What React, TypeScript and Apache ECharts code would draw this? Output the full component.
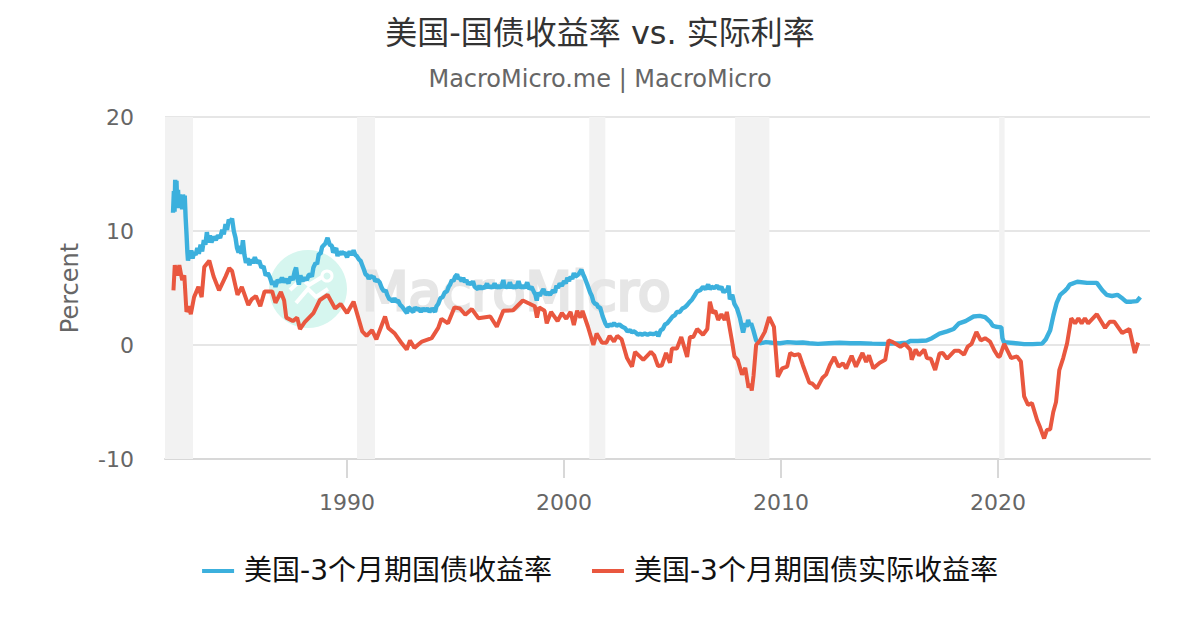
import React, { useEffect, useRef } from "react";
import * as echarts from "echarts";

const titleText = "美国-国债收益率 vs. 实际利率";
const subtitleText = "MacroMicro.me | MacroMicro";
const blueName = "美国-3个月期国债收益率";
const redName = "美国-3个月期国债实际收益率";
const xTicks = [1990, 2000, 2010, 2020];
const recessions = [[1981.61, 1982.9], [1990.46, 1991.29], [2001.16, 2001.9], [2007.88, 2009.46], [2020.05, 2020.3]];

const blueEarly = [
  [1981.98, 11.6], [1982.02, 13.5], [1982.05, 11.7], [1982.08, 14.5], [1982.11, 12.1], [1982.14, 14.4], [1982.17, 12.3], [1982.21, 13.6], [1982.25, 12.0], [1982.29, 13.2], [1982.33, 12.2], [1982.37, 12.9], [1982.4, 11.9], [1982.44, 13.2], [1982.48, 12.2], [1982.52, 13.1], [1982.56, 11.2], [1982.6, 9.8], [1982.64, 8.2], [1982.67, 7.4], [1982.72, 8.0], [1982.76, 7.7], [1982.82, 8.3], [1982.88, 7.6], [1982.95, 8.1], [1983.02, 7.9], [1983.1, 8.5], [1983.17, 8.0], [1983.25, 8.8], [1983.32, 8.2], [1983.4, 9.2], [1983.47, 8.8], [1983.54, 9.9], [1983.6, 9.0], [1983.68, 9.6], [1983.75, 9.0], [1983.85, 9.5], [1983.95, 9.2], [1984.05, 9.6], [1984.15, 9.4], [1984.25, 10.1], [1984.32, 9.7], [1984.4, 10.6], [1984.47, 10.1], [1984.55, 11.0], [1984.62, 10.8], [1984.7, 11.1], [1984.78, 10.0], [1984.86, 9.4], [1984.93, 8.5], [1985.0, 8.1], [1985.06, 8.7], [1985.13, 8.0], [1985.2, 9.2], [1985.27, 7.9], [1985.34, 7.2], [1985.42, 7.6], [1985.5, 7.0], [1985.58, 7.5], [1985.66, 7.2], [1985.75, 7.7], [1985.85, 7.2], [1985.95, 7.4], [1986.05, 6.8], [1986.15, 6.9], [1986.25, 6.1], [1986.35, 6.3], [1986.45, 5.9], [1986.55, 5.3], [1986.62, 5.6], [1986.7, 5.1], [1986.8, 5.7], [1986.9, 5.5], [1987.0, 5.9], [1987.1, 5.5], [1987.2, 5.8], [1987.3, 5.4], [1987.4, 6.0], [1987.5, 5.7], [1987.58, 6.4], [1987.65, 6.8], [1987.72, 5.8], [1987.78, 5.3], [1987.85, 6.1], [1987.95, 5.6], [1988.05, 5.9], [1988.15, 5.7], [1988.22, 6.1], [1988.3, 6.2], [1988.38, 6.0], [1988.45, 6.8], [1988.55, 7.2], [1988.62, 7.1], [1988.7, 8.0], [1988.78, 8.0], [1988.85, 8.6], [1989.0, 8.9], [1989.1, 9.4], [1989.2, 8.8], [1989.3, 8.7], [1989.36, 8.1], [1989.42, 8.3], [1989.5, 8.5], [1989.56, 7.8], [1989.62, 8.2], [1989.7, 7.9], [1989.75, 8.2], [1989.82, 8.0], [1989.9, 8.1], [1990.0, 7.7], [1990.06, 8.0], [1990.12, 8.2], [1990.22, 7.9], [1990.3, 8.3], [1990.38, 7.9], [1990.45, 7.8], [1990.55, 7.5], [1990.62, 7.4], [1990.7, 7.0], [1990.78, 6.6], [1990.85, 6.2], [1990.93, 6.1], [1991.0, 5.8], [1991.08, 6.1], [1991.15, 5.9], [1991.22, 6.0], [1991.3, 5.6], [1991.4, 5.7], [1991.5, 5.5],
];
const blueMid = [
  [1991.6, 5.0], [1991.7, 4.7], [1991.78, 4.8], [1991.85, 4.4], [1991.95, 4.0], [1992.03, 4.0], [1992.1, 3.8], [1992.18, 4.1], [1992.25, 3.8], [1992.35, 3.9], [1992.45, 3.5], [1992.52, 3.4], [1992.6, 3.2], [1992.68, 3.0], [1992.76, 2.8], [1992.83, 3.3], [1992.9, 3.2], [1992.98, 3.0], [1993.05, 2.9], [1993.12, 3.3], [1993.2, 3.1], [1993.3, 3.2], [1993.4, 2.9], [1993.5, 3.2], [1993.6, 3.0], [1993.7, 3.2], [1993.8, 2.9], [1993.92, 3.2], [1994.05, 2.9], [1994.12, 3.4], [1994.2, 3.6], [1994.3, 4.1], [1994.4, 4.2], [1994.5, 4.6], [1994.6, 4.7], [1994.68, 5.1], [1994.75, 5.3], [1994.83, 5.7], [1994.9, 5.6], [1994.98, 6.0], [1995.07, 6.2], [1995.13, 5.8], [1995.2, 5.9], [1995.28, 5.6], [1995.35, 5.9], [1995.43, 5.5], [1995.5, 5.7], [1995.58, 5.3], [1995.65, 5.5], [1995.73, 5.3], [1995.8, 5.6], [1995.88, 5.1], [1995.95, 5.0], [1996.03, 4.9], [1996.1, 5.2], [1996.18, 4.9], [1996.25, 5.1], [1996.35, 5.0], [1996.45, 5.4], [1996.53, 5.0], [1996.6, 5.2], [1996.7, 5.0], [1996.8, 5.4], [1996.9, 5.0], [1997.0, 5.2], [1997.1, 5.0], [1997.2, 5.7], [1997.27, 5.0], [1997.35, 5.2], [1997.42, 5.0], [1997.5, 5.5], [1997.6, 5.0], [1997.7, 5.2], [1997.8, 5.0], [1997.9, 5.6], [1998.0, 5.0], [1998.1, 5.2], [1998.2, 5.0], [1998.3, 5.5], [1998.4, 4.9], [1998.5, 5.1], [1998.6, 4.7], [1998.68, 4.4], [1998.74, 3.9], [1998.8, 4.6], [1998.88, 4.3], [1998.95, 4.6], [1999.05, 4.9], [1999.15, 4.4], [1999.25, 4.6], [1999.35, 4.4], [1999.5, 4.8], [1999.58, 4.6], [1999.65, 5.2], [1999.72, 5.0], [1999.8, 5.4], [1999.9, 5.2], [2000.0, 5.6], [2000.08, 5.4], [2000.15, 5.9], [2000.23, 5.6], [2000.3, 6.0], [2000.38, 5.8], [2000.45, 6.3], [2000.52, 6.0], [2000.6, 6.1], [2000.7, 6.3], [2000.8, 6.6], [2000.88, 6.2], [2000.95, 5.9], [2001.07, 5.3], [2001.2, 4.6], [2001.28, 4.3], [2001.35, 3.8], [2001.43, 3.6], [2001.5, 3.6], [2001.58, 3.3], [2001.66, 3.3], [2001.78, 2.5], [2001.9, 1.9], [2002.0, 1.6], [2002.1, 1.8], [2002.2, 1.7], [2002.3, 1.9], [2002.42, 1.7], [2002.55, 1.8], [2002.68, 1.6], [2002.8, 1.5], [2002.92, 1.2], [2003.04, 1.3], [2003.12, 1.1], [2003.2, 1.2], [2003.3, 1.1], [2003.4, 0.9], [2003.5, 1.0], [2003.6, 0.9], [2003.72, 1.0], [2003.85, 0.9], [2003.97, 1.0], [2004.1, 0.95], [2004.2, 1.0], [2004.29, 1.1], [2004.34, 0.75], [2004.45, 1.3], [2004.55, 1.4], [2004.65, 1.8], [2004.75, 1.9], [2004.88, 2.2], [2005.0, 2.5], [2005.1, 2.6], [2005.2, 2.9], [2005.33, 2.9], [2005.45, 3.2], [2005.56, 3.3], [2005.67, 3.5], [2005.8, 3.8], [2005.9, 4.0], [2006.0, 4.3], [2006.13, 4.7], [2006.27, 4.8], [2006.4, 5.1], [2006.52, 4.9], [2006.64, 5.3], [2006.72, 4.9], [2006.8, 5.1], [2006.92, 5.0], [2007.05, 5.2], [2007.15, 4.9], [2007.25, 5.1], [2007.35, 4.6], [2007.42, 4.8], [2007.5, 4.7], [2007.58, 5.2], [2007.64, 4.0], [2007.75, 4.4], [2007.85, 3.6], [2007.97, 3.2], [2008.1, 2.4], [2008.25, 1.1], [2008.35, 1.9], [2008.42, 1.6], [2008.48, 2.2], [2008.55, 1.7], [2008.62, 1.9], [2008.72, 1.3], [2008.85, 0.4], [2009.03, 0.15], [2009.3, 0.25], [2009.6, 0.2], [2009.95, 0.15], [2010.3, 0.25], [2010.7, 0.2], [2011.0, 0.22], [2011.3, 0.15], [2011.7, 0.1], [2012.2, 0.15], [2012.7, 0.2], [2013.2, 0.15], [2013.65, 0.15], [2014.2, 0.12], [2014.7, 0.1], [2015.1, 0.12], [2015.5, 0.15],
];
const blueLate = [
  [2015.8, 0.2], [2015.95, 0.35], [2016.3, 0.35], [2016.7, 0.4], [2016.95, 0.6], [2017.3, 1.0], [2017.65, 1.2], [2017.95, 1.4], [2018.2, 1.9], [2018.5, 2.1], [2018.87, 2.5], [2019.15, 2.55], [2019.4, 2.45], [2019.65, 2.0], [2019.75, 1.7], [2019.9, 1.6], [2020.15, 1.55], [2020.2, 0.6], [2020.27, 0.25], [2020.7, 0.18], [2021.2, 0.08], [2021.6, 0.08], [2022.03, 0.12], [2022.2, 0.5], [2022.4, 1.3], [2022.55, 2.6], [2022.7, 3.7], [2022.86, 4.4], [2023.05, 4.7], [2023.2, 5.0], [2023.3, 5.3], [2023.65, 5.55], [2024.1, 5.45], [2024.55, 5.45], [2024.8, 4.8], [2025.0, 4.4], [2025.25, 4.3], [2025.5, 4.4], [2025.75, 4.05], [2025.9, 3.8], [2026.15, 3.8], [2026.4, 3.85], [2026.55, 4.2],
];
const redEarly = [
  [1982.0, 4.8], [1982.06, 7.0], [1982.18, 6.1], [1982.27, 7.0], [1982.4, 5.7], [1982.5, 6.1], [1982.6, 2.9], [1982.7, 3.4], [1982.8, 2.7], [1982.95, 4.2], [1983.15, 5.1], [1983.3, 4.2], [1983.42, 6.85], [1983.65, 7.4], [1983.85, 6.0], [1984.1, 4.8], [1984.4, 6.0], [1984.57, 6.75], [1984.7, 6.5], [1984.95, 4.4], [1985.15, 5.1], [1985.45, 3.5], [1985.6, 4.0], [1985.8, 4.3], [1986.0, 3.4], [1986.2, 4.7], [1986.55, 4.7], [1986.7, 3.7], [1986.95, 4.65], [1987.1, 3.9], [1987.2, 2.4], [1987.5, 2.1], [1987.7, 2.4], [1987.83, 1.4], [1988.05, 2.0], [1988.45, 2.8], [1988.75, 3.95], [1989.1, 4.4], [1989.45, 3.2], [1989.7, 3.6], [1990.0, 2.8], [1990.3, 3.8], [1990.7, 1.2], [1990.9, 0.8], [1991.15, 1.3], [1991.35, 0.5], [1991.75, 2.5], [1991.9, 1.5], [1992.2, 1.0], [1992.5, 0.2], [1992.75, -0.4], [1992.9, 0.4], [1993.1, -0.25], [1993.45, 0.3], [1993.9, 0.6], [1994.2, 1.5], [1994.35, 2.3], [1994.65, 1.9], [1994.95, 3.3], [1995.2, 3.2], [1995.45, 2.65], [1995.75, 3.15], [1996.05, 2.35], [1996.6, 2.5], [1996.9, 1.6], [1997.2, 3.0], [1997.65, 3.05], [1998.1, 3.9], [1998.65, 3.4], [1998.75, 2.4], [1998.85, 3.3], [1999.1, 3.0], [1999.2, 1.9], [1999.4, 2.9], [1999.7, 2.1], [1999.9, 2.8], [2000.1, 2.3], [2000.3, 2.9], [2000.45, 1.75], [2000.6, 3.0], [2000.75, 2.4], [2000.85, 3.0], [2001.1, 1.6], [2001.35, 0.0], [2001.5, 1.0], [2001.75, 0.2], [2001.95, 0.2], [2002.1, 0.8], [2002.3, 0.3], [2002.45, 0.8], [2002.65, 0.5],
];
const redMid = [
  [2002.9, -1.15], [2003.13, -1.9], [2003.27, -0.6], [2003.65, -1.3], [2003.85, -0.9], [2004.0, -0.6], [2004.15, -0.9], [2004.33, -1.85], [2004.5, -1.8], [2004.7, -0.7], [2004.88, -1.55], [2004.97, -0.3], [2005.2, -0.3], [2005.4, 0.7], [2005.67, -1.05], [2005.8, 0.7], [2005.95, 0.7], [2006.13, 1.4], [2006.4, 0.9], [2006.6, 1.4], [2006.72, 3.8], [2006.85, 2.8], [2006.97, 3.0], [2007.1, 2.2], [2007.25, 2.7], [2007.4, 2.2], [2007.5, 2.9], [2007.75, 0.2], [2007.85, -1.0], [2008.0, -1.3], [2008.2, -2.6], [2008.35, -2.0], [2008.5, -3.75], [2008.58, -3.4], [2008.65, -4.0], [2008.73, -2.7], [2008.85, 0.0], [2009.03, 0.4], [2009.25, 1.15], [2009.45, 2.45], [2009.67, 1.6], [2009.85, -2.8], [2010.05, -2.05], [2010.28, -1.9], [2010.42, -0.7], [2010.6, -0.9], [2010.83, -0.8], [2011.0, -1.75], [2011.3, -3.3], [2011.45, -3.4], [2011.65, -3.8], [2011.9, -2.9], [2012.07, -2.6], [2012.25, -1.75], [2012.45, -1.05], [2012.65, -1.9], [2012.85, -1.6], [2013.0, -2.05], [2013.25, -0.95], [2013.45, -1.9], [2013.75, -0.7], [2013.92, -1.5],
];
const redLate = [
  [2014.05, -0.9], [2014.25, -2.05], [2014.55, -1.55], [2014.8, -1.3], [2014.95, 0.4], [2015.15, 0.25], [2015.5, -0.15], [2015.7, 0.1], [2015.95, -0.4], [2016.02, -1.3], [2016.2, -0.4], [2016.35, -0.9], [2016.6, -0.4], [2016.72, -1.15], [2016.9, -1.2], [2017.1, -2.2], [2017.3, -0.75], [2017.45, -0.7], [2017.65, -1.2], [2018.0, -0.5], [2018.2, -0.5], [2018.43, -0.85], [2018.6, -0.15], [2018.78, 0.1], [2019.0, 1.15], [2019.2, 0.4], [2019.4, 0.6], [2019.63, 0.3], [2019.85, -0.55], [2020.0, -1.0], [2020.08, -1.0], [2020.28, 0.1], [2020.6, -1.15], [2020.87, -1.0], [2021.05, -1.45], [2021.2, -4.5], [2021.38, -5.25], [2021.56, -5.1], [2021.8, -6.6], [2021.93, -7.2], [2022.12, -8.2], [2022.25, -7.45], [2022.4, -7.4], [2022.54, -5.9], [2022.67, -5.0], [2022.82, -2.2], [2023.0, -1.15], [2023.18, 0.15], [2023.37, 2.35], [2023.55, 1.9], [2023.7, 2.35], [2023.85, 1.9], [2024.0, 2.35], [2024.15, 1.9], [2024.55, 2.7], [2024.93, 1.5], [2025.15, 2.05], [2025.35, 2.05], [2025.72, 1.05], [2026.05, 1.4], [2026.3, -0.7], [2026.45, 0.2],
];

const blueValues = [...blueEarly, ...blueMid, ...blueLate];
const redValues = [...redEarly, ...redMid, ...redLate];

const FONT = '"DejaVu Sans", "Noto Sans CJK SC", sans-serif';

export default function App() {
  const ref = useRef<HTMLDivElement>(null);
  useEffect(() => {
    const chart = echarts.init(ref.current!, undefined, { renderer: "svg" });
    chart.setOption({
      animation: false,
      backgroundColor: "#ffffff",
      textStyle: { fontFamily: FONT },
      title: {
        text: titleText,
        subtext: subtitleText,
        left: "center",
        top: 12,
        itemGap: 18,
        textStyle: { fontSize: 32, fontWeight: "normal", color: "#333333", fontFamily: FONT },
        subtextStyle: { fontSize: 24, color: "#666666", fontFamily: FONT },
      },
      legend: {
        bottom: 40,
        left: "center",
        icon: "rect",
        itemWidth: 32,
        itemHeight: 4,
        itemGap: 40,
        textStyle: { fontSize: 28, color: "#111111", fontFamily: FONT, padding: [0, 0, 0, 5] },
        data: [blueName, redName],
      },
      grid: { left: 165, right: 50, top: 117, bottom: 171 },
      xAxis: {
        type: "value",
        min: 1981.61,
        max: 2027.0,
        splitLine: { show: false },
        axisLine: { show: true, onZero: false, lineStyle: { color: "#d8d8d8", width: 2 } },
        axisTick: { show: true, length: 19, lineStyle: { color: "#d8d8d8", width: 2 }, customValues: xTicks },
        axisLabel: { fontSize: 22, color: "#666666", margin: 32, customValues: xTicks, formatter: (v: number) => String(v), fontFamily: FONT },
      },
      yAxis: {
        type: "value",
        min: -10,
        max: 20,
        interval: 10,
        name: "Percent",
        nameLocation: "middle",
        nameGap: 83,
        nameRotate: 90,
        nameTextStyle: { fontSize: 24, color: "#666666", fontFamily: FONT },
        axisLine: { show: false },
        axisTick: { show: false },
        axisLabel: { fontSize: 22, color: "#666666", margin: 31, fontFamily: FONT },
        splitLine: { lineStyle: { color: "#e6e6e6", width: 2 } },
      },
      graphic: [
        { type: "circle", silent: true, z: 2, shape: { cx: 308, cy: 289, r: 39 }, style: { fill: "#d6f6ef" } },
        { type: "polyline", silent: true, z: 2, shape: { points: [[290, 290], [302, 279], [309, 285], [322, 277]] }, style: { stroke: "#ffffff", lineWidth: 4, fill: "none" } },
        { type: "polyline", silent: true, z: 2, shape: { points: [[296, 303], [308, 289], [316, 297], [328, 289]] }, style: { stroke: "#ffffff", lineWidth: 4, fill: "none" } },
        { type: "circle", silent: true, z: 2, shape: { cx: 327, cy: 276, r: 5 }, style: { fill: "none", stroke: "#ffffff", lineWidth: 3 } },
        { type: "text", silent: true, z: 2, x: 362, y: 264, style: { text: "MacroMicro", fontSize: 54, fontWeight: "normal", fill: "#e6e6e6", stroke: "#e6e6e6", lineWidth: 3, fontFamily: FONT } },
      ],
      series: [
        {
          name: blueName,
          type: "line",
          showSymbol: false,
          symbol: "none",
          z: 3,
          data: blueValues,
          lineStyle: { color: "#3cb0dd", width: 4.4 },
          itemStyle: { color: "#3cb0dd" },
          markArea: {
            silent: true,
            itemStyle: { color: "#f2f2f2" },
            data: recessions.map(([a, b]) => [{ xAxis: a }, { xAxis: b }]),
          },
        },
        {
          name: redName,
          type: "line",
          showSymbol: false,
          symbol: "none",
          z: 4,
          data: redValues,
          lineStyle: { color: "#e9573f", width: 4 },
          itemStyle: { color: "#e9573f" },
        },
      ],
    });
    return () => chart.dispose();
  }, []);
  return <div ref={ref} style={{ width: 1200, height: 630, position: "absolute", left: 0, top: 0 }} />;
}
